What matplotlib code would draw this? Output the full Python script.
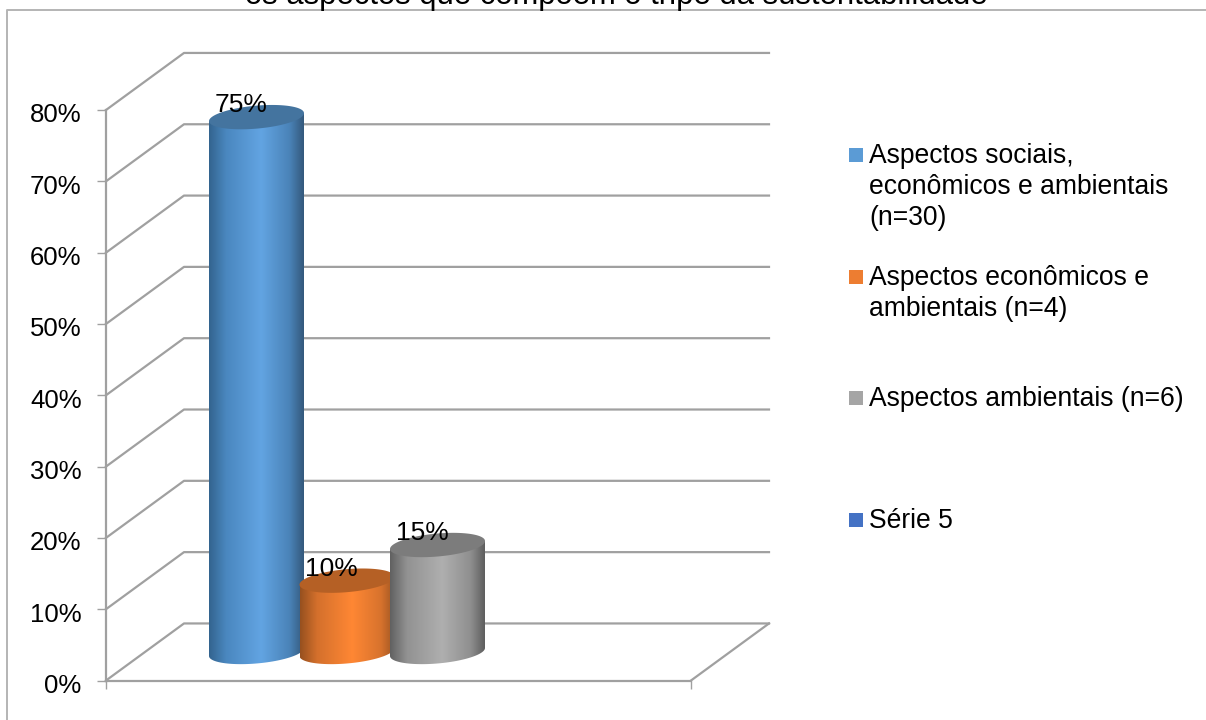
import matplotlib
matplotlib.use('Agg')
import matplotlib.pyplot as plt
import numpy as np
from matplotlib.colors import LinearSegmentedColormap
from matplotlib.lines import Line2D
from matplotlib.patches import PathPatch, Polygon, Rectangle
from matplotlib.path import Path
from matplotlib.transforms import ScaledTranslation

plt.rcParams['font.family'] = ['Liberation Sans', 'DejaVu Sans']

W, H = 1206, 720

title = 'os aspectos que compõem o tripé da sustentabilidade'
values = [75, 10, 15]
value_labels = ['75%', '10%', '15%']
yticks = [0, 10, 20, 30, 40, 50, 60, 70, 80]
legend_labels = ['Aspectos sociais,\neconômicos e ambientais\n(n=30)',
                 'Aspectos econômicos e\nambientais (n=4)',
                 'Aspectos ambientais (n=6)',
                 'Série 5']
legend_colors = ['#5b9bd5', '#ed7d31', '#a5a5a5', '#4472c4']
# dark edge, mid, bright, mid, dark edge, top face
blue = ['#33648f', '#4a87bf', '#62a4e2', '#4a83b8', '#34597c', '#44749f']
orange = ['#96501f', '#d4702c', '#ff8734', '#d8732d', '#9e5522', '#b56025']
gray = ['#616161', '#929292', '#afafaf', '#8f8f8f', '#5e5e5e', '#7c7c7c']
shades = [blue, orange, gray]

# layout in pixels of the reference
X0, X1, Y0, Y80 = 106, 691, 680.5, 110
PX_PER_PCT = (Y0 - Y80) / 80
DEPTH_X, DEPTH_Y = 78, 8
FIRST_X, STEP_X = 150.5, 90.5
RADIUS, BASE = 47.5, 4.0
B, TILT = 11.5 / PX_PER_PCT, 4 / PX_PER_PCT

fig = plt.figure(figsize=(W / 100, H / 100), dpi=100, facecolor='white')
ax = fig.add_axes([X0 / W, 1 - Y0 / H, (X1 - X0) / W, (Y0 - Y80) / H])
ax.set_xlim(0, X1 - X0)
ax.set_ylim(0, 80)
ax.patch.set_visible(False)

line_c = '#a0a0a0'
for s in ['top', 'right']:
    ax.spines[s].set_visible(False)
for s in ['left', 'bottom']:
    ax.spines[s].set_color(line_c)
    ax.spines[s].set_linewidth(1.6)
ax.set_yticks(yticks)
ax.set_yticklabels([f'{t}%' for t in yticks])
ax.tick_params(axis='y', length=6.5, width=1.0, color=line_c, pad=11, labelsize=18.5)
ax.set_xticks([0, X1 - X0])
ax.set_xticklabels([])
ax.tick_params(axis='x', length=5.5, width=1.0, color=line_c)
# labels sit a little under their ticks
for lab in ax.get_yticklabels():
    lab.set_transform(lab.get_transform() + ScaledTranslation(0, -3 / 100, fig.dpi_scale_trans))

# back wall gridlines with the slanted side wall
for t in yticks:
    ax.plot([0, DEPTH_X, X1 - X0 + DEPTH_X], [t, t + DEPTH_Y, t + DEPTH_Y],
            color=line_c, lw=1.6, clip_on=False, zorder=1)
ax.plot([X1 - X0, X1 - X0 + DEPTH_X], [0, DEPTH_Y], color=line_c, lw=1.6, clip_on=False, zorder=1)


def ellipse(cx, cy, t):
    return np.column_stack([cx + RADIUS * np.cos(t), cy + B * np.sin(t) + TILT * np.cos(t)])


for i, v in enumerate(values):
    cx = FIRST_X + i * STEP_X
    top = BASE + v
    c = shades[i]
    lower = ellipse(cx, BASE, np.linspace(0, -np.pi, 60))
    body = np.vstack([ellipse(cx, top, np.array([np.pi, 0.0])), lower])
    cmap = LinearSegmentedColormap.from_list('c', list(zip([0, 0.18, 0.55, 0.85, 1], c[:5])))
    z = 3 + i
    im = ax.imshow(np.linspace(0, 1, 256)[None, :], cmap=cmap, aspect='auto', zorder=z,
                   extent=(cx - RADIUS, cx + RADIUS, 0, 80))
    im.set_clip_path(PathPatch(Path(body), transform=ax.transData))
    ax.add_patch(Polygon(ellipse(cx, top, np.linspace(0, 2 * np.pi, 120)), closed=True,
                         fc=c[5], ec='none', clip_on=False, zorder=z))
    ax.text(cx - 15.5, top + 5 / PX_PER_PCT, value_labels[i], fontsize=19, ha='center',
            va='baseline', color='black', zorder=10)

ax.set_xlim(0, X1 - X0)
ax.set_ylim(0, 80)

# clipped title and the partial chart frame
fig.text(616.5 / W, 1 - 4 / H, title, fontsize=22.3, ha='center', va='baseline', color='black')
fig.add_artist(Line2D([7 / W, 7 / W, 1], [0, 1 - 9.5 / H, 1 - 9.5 / H], color='#b4b4b4', lw=1.4))

legend_y = [148, 270, 391, 513]
for lab, col, y in zip(legend_labels, legend_colors, legend_y):
    fig.add_artist(Rectangle((849 / W, 1 - (y + 14) / H), 14 / W, 14 / H, fc=col, ec='none',
                             transform=fig.transFigure))
    for n, part in enumerate(lab.split('\n')):
        fig.text(869 / W, 1 - (y + 15 + n * 31) / H, part, fontsize=19.1, ha='left',
                 va='baseline', color='black')

fig.savefig('out.png', dpi=100)
